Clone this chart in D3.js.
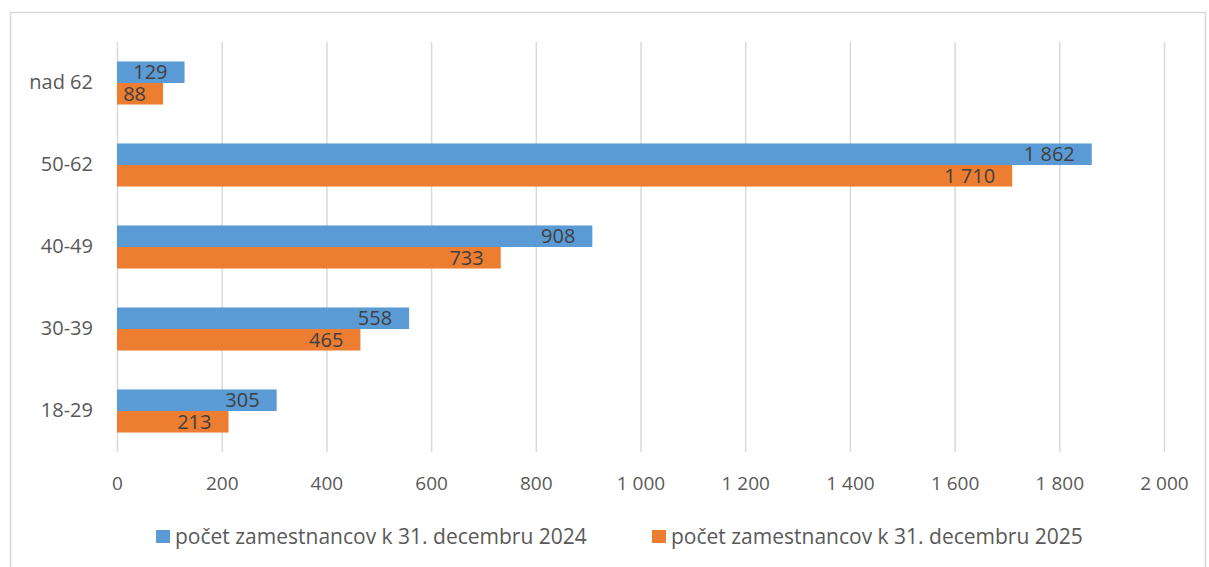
<!DOCTYPE html>
<html>
<head>
<meta charset="utf-8">
<script src="https://cdn.jsdelivr.net/npm/d3@7"></script>
<style>
  body { margin: 0; background: #fff; }
  svg text { font-family: "Open Sans", "Noto Sans", sans-serif; }
</style>
</head>
<body>
<svg id="chart"></svg>
<script>
// chart size
var width = 1209;
var height = 567;

// data
var categories = ["nad 62", "50-62", "40-49", "30-39", "18-29"];
var values2024 = [129, 1862, 908, 558, 305];
var values2025 = [88, 1710, 733, 465, 213];
var seriesNames = ["počet zamestnancov k 31. decembru 2024", "počet zamestnancov k 31. decembru 2025"];
var tickValues = [0, 200, 400, 600, 800, 1000, 1200, 1400, 1600, 1800, 2000];

var colors = ["#5B9BD5", "#ED7D31"];

var margin = { left: 117, right: 45, top: 42, bottom: 115 };

var svg = d3.select("#chart")
    .attr("width", width)
    .attr("height", height);

// outer border of the chart area
svg.append("rect")
    .attr("x", 10.5).attr("y", 12.5)
    .attr("width", 1195).attr("height", 570)
    .attr("fill", "none")
    .attr("stroke", "#D9D9D9")
    .attr("stroke-width", 1.5);

var x = d3.scaleLinear()
    .domain([0, 2000])
    .range([margin.left, 1164]);

var y = d3.scaleBand()
    .domain(categories)
    .range([margin.top, height - margin.bottom])
    .paddingInner(0.475)
    .paddingOuter(0.2375);

var inner = d3.scaleBand()
    .domain([0, 1])
    .range([0, y.bandwidth()]);

var fmt = function (v) {
    return d3.format(",")(v).replace(/,/g, " ");
};

// gridlines
svg.append("g")
    .selectAll("line")
    .data(tickValues)
    .join("line")
    .attr("x1", (d) => x(d) + 0.5)
    .attr("x2", (d) => x(d) + 0.5)
    .attr("y1", margin.top)
    .attr("y2", height - margin.bottom)
    .attr("stroke", "#D9D9D9")
    .attr("stroke-width", 1.5);

// x axis labels
var xAxis = d3.axisBottom(x)
    .tickValues(tickValues)
    .tickSize(0)
    .tickPadding(0)
    .tickFormat(fmt);

var axisG = svg.append("g")
    .attr("transform", "translate(0," + 476 + ")")
    .call(xAxis);
axisG.select(".domain").remove();
axisG.selectAll("text")
    .attr("fill", "#595959")
    .style("font-size", "19px");

// y axis labels
var yAxis = d3.axisLeft(y).tickSize(0).tickPadding(0);
var yG = svg.append("g")
    .attr("transform", "translate(93,0)")
    .call(yAxis);
yG.select(".domain").remove();
yG.selectAll("text")
    .attr("fill", "#595959")
    .style("font-size", "20px");

// bars
var series = [values2024, values2025];
series.forEach(function (vals, si) {
    var g = svg.append("g");
    g.selectAll("rect")
        .data(vals)
        .join("rect")
        .attr("x", x(0))
        .attr("y", (d, i) => y(categories[i]) + inner(si))
        .attr("width", (d) => x(d) - x(0))
        .attr("height", inner.bandwidth())
        .attr("fill", colors[si]);

    g.selectAll("text")
        .data(vals)
        .join("text")
        .attr("x", (d) => x(d) - 17)
        .attr("y", (d, i) => y(categories[i]) + inner(si) + inner.bandwidth() / 2)
        .attr("dy", "0.36em")
        .attr("text-anchor", "end")
        .attr("fill", "#404040")
        .style("font-size", "20px")
        .text(fmt);
});

// legend
var legendX = [156, 652];
var legend = svg.append("g");
seriesNames.forEach(function (name, i) {
    legend.append("rect")
        .attr("x", legendX[i])
        .attr("y", 530)
        .attr("width", 14)
        .attr("height", 13)
        .attr("fill", colors[i]);
    legend.append("text")
        .attr("x", legendX[i] + 19)
        .attr("y", 536)
        .attr("dy", "0.36em")
        .attr("fill", "#595959")
        .style("font-size", "21px")
        .text(name);
});
</script>
</body>
</html>
